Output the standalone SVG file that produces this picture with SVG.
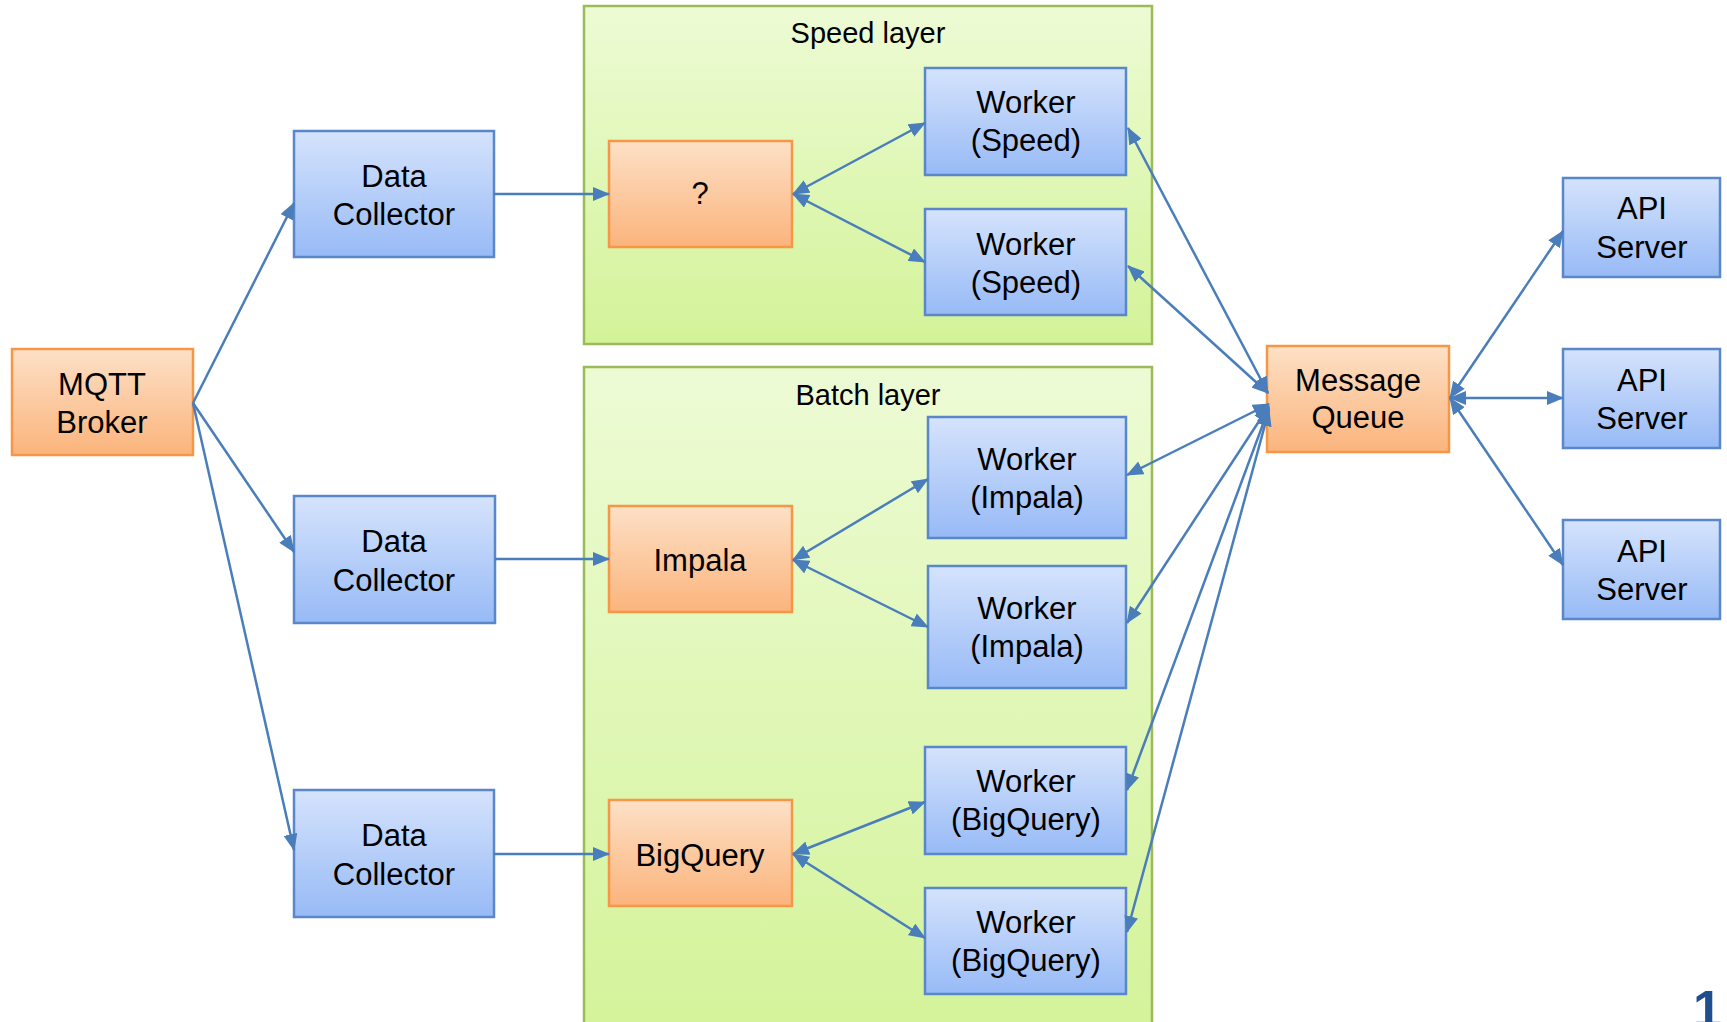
<svg xmlns="http://www.w3.org/2000/svg" width="1727" height="1022" viewBox="0 0 1727 1022">
<defs>
<linearGradient id="gBlue" x1="0" y1="0" x2="0" y2="1"><stop offset="0" stop-color="#d5e3fc"/><stop offset="1" stop-color="#97baf6"/></linearGradient>
<linearGradient id="gOrange" x1="0" y1="0" x2="0" y2="1"><stop offset="0" stop-color="#fde0c6"/><stop offset="1" stop-color="#fbb47c"/></linearGradient>
<linearGradient id="gGreen" x1="0" y1="0" x2="0" y2="1"><stop offset="0" stop-color="#edfbd5"/><stop offset="1" stop-color="#d3f398"/></linearGradient>
<marker id="arr" markerUnits="userSpaceOnUse" viewBox="0 0 17 14" markerWidth="17" markerHeight="14" refX="16" refY="7" orient="auto-start-reverse"><path d="M0,0 L17,7 L0,14 z" fill="#4a7ebb"/></marker>
<style>
.blue{fill:url(#gBlue);stroke:#5a87c9;stroke-width:2.5}
.orange{fill:url(#gOrange);stroke:#f79646;stroke-width:2.5}
.green{fill:url(#gGreen);stroke:#9bbb59;stroke-width:2.5}
text{font-family:"Liberation Sans",Arial,sans-serif;fill:#000;text-anchor:middle}
.t{font-size:31px}
.lab{font-size:29px}
.c line{stroke:#4a7ebb;stroke-width:2.5;fill:none}
.one{marker-end:url(#arr)}
.two{marker-start:url(#arr);marker-end:url(#arr)}
</style>
</defs>
<rect width="1727" height="1022" fill="#ffffff"/>

<g id="speed-layer">
<rect class="green" x="584" y="6" width="568" height="338"/>
<text class="lab" x="868" y="43">Speed layer</text>
</g>
<g id="batch-layer">
<rect class="green" x="584" y="367" width="568" height="680"/>
<text class="lab" x="868" y="405">Batch layer</text>
</g>

<g id="mqtt-broker">
<rect class="orange" x="12" y="349" width="181" height="106"/>
<text class="t" x="102" y="395">MQTT</text>
<text class="t" x="102" y="433">Broker</text>
</g>

<g id="data-collector-1">
<rect class="blue" x="294" y="131" width="200" height="126"/>
<text class="t" x="394" y="187">Data</text>
<text class="t" x="394" y="225">Collector</text>
</g>
<g id="data-collector-2">
<rect class="blue" x="294" y="496" width="201" height="127"/>
<text class="t" x="394" y="552">Data</text>
<text class="t" x="394" y="591">Collector</text>
</g>
<g id="data-collector-3">
<rect class="blue" x="294" y="790" width="200" height="127"/>
<text class="t" x="394" y="846">Data</text>
<text class="t" x="394" y="885">Collector</text>
</g>

<g id="unknown">
<rect class="orange" x="609" y="141" width="183" height="106"/>
<text class="t" x="700" y="204">?</text>
</g>
<g id="impala">
<rect class="orange" x="609" y="506" width="183" height="106"/>
<text class="t" x="700" y="571">Impala</text>
</g>
<g id="bigquery">
<rect class="orange" x="609" y="800" width="183" height="106"/>
<text class="t" x="700" y="866">BigQuery</text>
</g>

<g id="worker-speed-1">
<rect class="blue" x="925" y="68" width="201" height="107"/>
<text class="t" x="1026" y="113">Worker</text>
<text class="t" x="1026" y="151">(Speed)</text>
</g>
<g id="worker-speed-2">
<rect class="blue" x="925" y="209" width="201" height="106"/>
<text class="t" x="1026" y="255">Worker</text>
<text class="t" x="1026" y="293">(Speed)</text>
</g>
<g id="worker-impala-1">
<rect class="blue" x="928" y="417" width="198" height="121"/>
<text class="t" x="1027" y="470">Worker</text>
<text class="t" x="1027" y="508">(Impala)</text>
</g>
<g id="worker-impala-2">
<rect class="blue" x="928" y="566" width="198" height="122"/>
<text class="t" x="1027" y="619">Worker</text>
<text class="t" x="1027" y="657">(Impala)</text>
</g>
<g id="worker-bigquery-1">
<rect class="blue" x="925" y="747" width="201" height="107"/>
<text class="t" x="1026" y="792">Worker</text>
<text class="t" x="1026" y="830">(BigQuery)</text>
</g>
<g id="worker-bigquery-2">
<rect class="blue" x="925" y="888" width="201" height="106"/>
<text class="t" x="1026" y="933">Worker</text>
<text class="t" x="1026" y="971">(BigQuery)</text>
</g>

<g id="message-queue">
<rect class="orange" x="1267" y="346" width="182" height="106"/>
<text class="t" x="1358" y="391">Message</text>
<text class="t" x="1358" y="428">Queue</text>
</g>

<g id="api-server-1">
<rect class="blue" x="1563" y="178" width="157" height="99"/>
<text class="t" x="1642" y="219">API</text>
<text class="t" x="1642" y="258">Server</text>
</g>
<g id="api-server-2">
<rect class="blue" x="1563" y="349" width="157" height="99"/>
<text class="t" x="1642" y="391">API</text>
<text class="t" x="1642" y="429">Server</text>
</g>
<g id="api-server-3">
<rect class="blue" x="1563" y="520" width="157" height="99"/>
<text class="t" x="1642" y="562">API</text>
<text class="t" x="1642" y="600">Server</text>
</g>

<g id="connectors" class="c">
<line class="one" x1="193" y1="403" x2="294" y2="203"/>
<line class="one" x1="193" y1="403" x2="294" y2="552"/>
<line class="one" x1="193" y1="403" x2="294" y2="850"/>
<line class="one" x1="494" y1="194" x2="609" y2="194"/>
<line class="one" x1="495" y1="559" x2="609" y2="559"/>
<line class="one" x1="494" y1="854" x2="609" y2="854"/>
<line class="two" x1="793" y1="194" x2="925" y2="123"/>
<line class="two" x1="793" y1="194" x2="925" y2="262"/>
<line class="two" x1="793" y1="560" x2="928" y2="479"/>
<line class="two" x1="793" y1="560" x2="928" y2="627"/>
<line class="two" x1="793" y1="854" x2="925" y2="802"/>
<line class="two" x1="793" y1="854" x2="925" y2="938"/>
<line class="two" x1="1128" y1="128" x2="1268" y2="393"/>
<line class="two" x1="1128" y1="266" x2="1268" y2="393"/>
<line class="two" x1="1127" y1="475" x2="1269" y2="404"/>
<line class="two" x1="1127" y1="623" x2="1269" y2="406"/>
<line class="two" x1="1127" y1="790" x2="1269" y2="408"/>
<line class="two" x1="1127" y1="932" x2="1269" y2="410"/>
<line class="two" x1="1450" y1="398" x2="1563" y2="231"/>
<line class="two" x1="1450" y1="398" x2="1563" y2="398"/>
<line class="two" x1="1450" y1="398" x2="1563" y2="565"/>
</g>

<text x="1722" y="1027" style="font-size:52px;font-weight:bold;fill:#1f4e8c;text-anchor:end">1</text>
</svg>
